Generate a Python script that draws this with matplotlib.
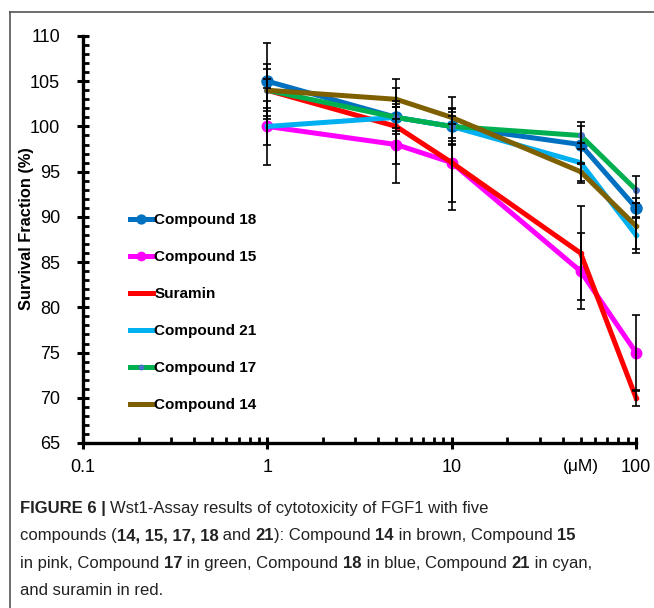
import matplotlib
matplotlib.use('Agg')
import matplotlib.pyplot as plt
from matplotlib.ticker import FixedLocator, NullFormatter, FixedFormatter, MultipleLocator

plt.rcParams['font.family'] = ['Liberation Sans', 'DejaVu Sans']

# concentrations (uM)
conc = [1, 5, 10, 50, 100]

labels = ['Compound 18', 'Compound 15', 'Suramin', 'Compound 21', 'Compound 17', 'Compound 14']
c18 = [105, 101, 100, 98, 91]
c15 = [100, 98, 96, 84, 75]
sur = [104, 100, 96, 86, 70]
c21 = [100, 101, 100, 96, 88]
c17 = [104, 101, 100, 99, 93]
c14 = [104, 103, 101, 95, 89]

e18 = [4.2, 1.5, 2.0, 2.1, 1.1]
e15 = [4.3, 4.2, 5.2, 4.2, 4.2]
esur = [2.3, 4.2, 4.3, 5.2, 0.9]
e21 = [2.0, 1.8, 1.9, 2.2, 2.0]
e17 = [2.9, 1.2, 1.6, 1.5, 1.5]
e14 = [1.2, 2.2, 2.3, 1.0, 2.5]

series = [c18, c15, sur, c21, c17, c14]
errors = [e18, e15, esur, e21, e17, e14]
colors = ['#0070C0', '#FF00FF', '#FF0000', '#00B0F0', '#00B050', '#7F6000']
mcolors = ['#0070C0', '#FF00FF', '#FF0000', '#00B0F0', '#4472C4', '#7F6000']
msizes = [8, 7.5, 3, 3, 4, 3]

fig = plt.figure(figsize=(6.54, 6.08), dpi=100)
ax = fig.add_axes([0.127, 0.2714, 0.9725 - 0.127, 0.9408 - 0.2714])

for y, c, mc, ms, lab in zip(series, colors, mcolors, msizes, labels):
    ax.plot(conc, y, color=c, lw=3.6, marker='o', ms=ms, mfc=mc, mec=mc, label=lab,
            zorder=2, clip_on=False)

for y, e in zip(series, errors):
    eb = ax.errorbar(conc, y, yerr=e, fmt='none', ecolor='black', elinewidth=1.2,
                     capsize=3, capthick=1.2, zorder=3)
    for art in eb.lines[1] + eb.lines[2]:
        art.set_clip_on(False)

ax.set_xscale('log')
ax.set_xlim(0.1, 100)
ax.set_ylim(65, 110)

for s in ['top', 'right']:
    ax.spines[s].set_visible(False)
for s in ['left', 'bottom']:
    ax.spines[s].set_linewidth(2.4)

ax.xaxis.set_major_locator(FixedLocator([0.1, 1, 10, 100]))
ax.xaxis.set_major_formatter(FixedFormatter(['0.1', '1', '10', '100']))
ax.xaxis.set_minor_formatter(NullFormatter())
ax.yaxis.set_major_locator(MultipleLocator(5))
ax.yaxis.set_minor_locator(MultipleLocator(1))

ax.tick_params(which='major', direction='inout', length=9, width=2.2, labelsize=13)
ax.tick_params(which='minor', direction='in', length=4, width=2)
ax.tick_params(axis='x', which='major', pad=7)
ax.tick_params(axis='y', which='major', pad=12)

ax.set_ylabel('Survival Fraction (%)', fontsize=11.8, fontweight='bold')
ax.yaxis.set_label_coords(-0.089, 0.528)
fig.text(0.888, 0.232, '(\u03bcM)', fontsize=12.5, ha='center', va='center')

leg = ax.legend(loc='upper left', bbox_to_anchor=(0.06, 0.598), frameon=False,
                prop={'weight': 'bold', 'size': 11}, handlelength=1.5,
                handletextpad=0.1, labelspacing=1.5, markerscale=0.8)

# frame around the figure panel
fig.add_artist(plt.Line2D([10 / 654, 10 / 654], [0, 1 - 12 / 608], color='#555555', lw=1.2))
fig.add_artist(plt.Line2D([10 / 654, 1], [1 - 12 / 608, 1 - 12 / 608], color='#555555', lw=1.2))

# caption with bold fragments
lines = [
    [('FIGURE 6 | ', True), ('Wst1-Assay results of cytotoxicity of FGF1 with five', False)],
    [('compounds (', False), ('14, 15, 17, 18', True), (' and ', False), ('21', True),
     ('): Compound ', False), ('14', True), (' in brown, Compound ', False), ('15', True)],
    [('in pink, Compound ', False), ('17', True), (' in green, Compound ', False), ('18', True),
     (' in blue, Compound ', False), ('21', True), (' in cyan,', False)],
    [('and suramin in red.', False)],
]
renderer = fig.canvas.get_renderer()
y0 = 1 - 513 / 608
dy = 27.3 / 608
for i, parts in enumerate(lines):
    x = 20 / 654
    for s, b in parts:
        t = fig.text(x, y0 - i * dy, s, fontsize=12, color='#222222',
                     fontweight='bold' if b else 'normal', va='baseline')
        bb = t.get_window_extent(renderer)
        x += bb.width / fig.bbox.width

fig.savefig('out.png', dpi=100, facecolor='white')
